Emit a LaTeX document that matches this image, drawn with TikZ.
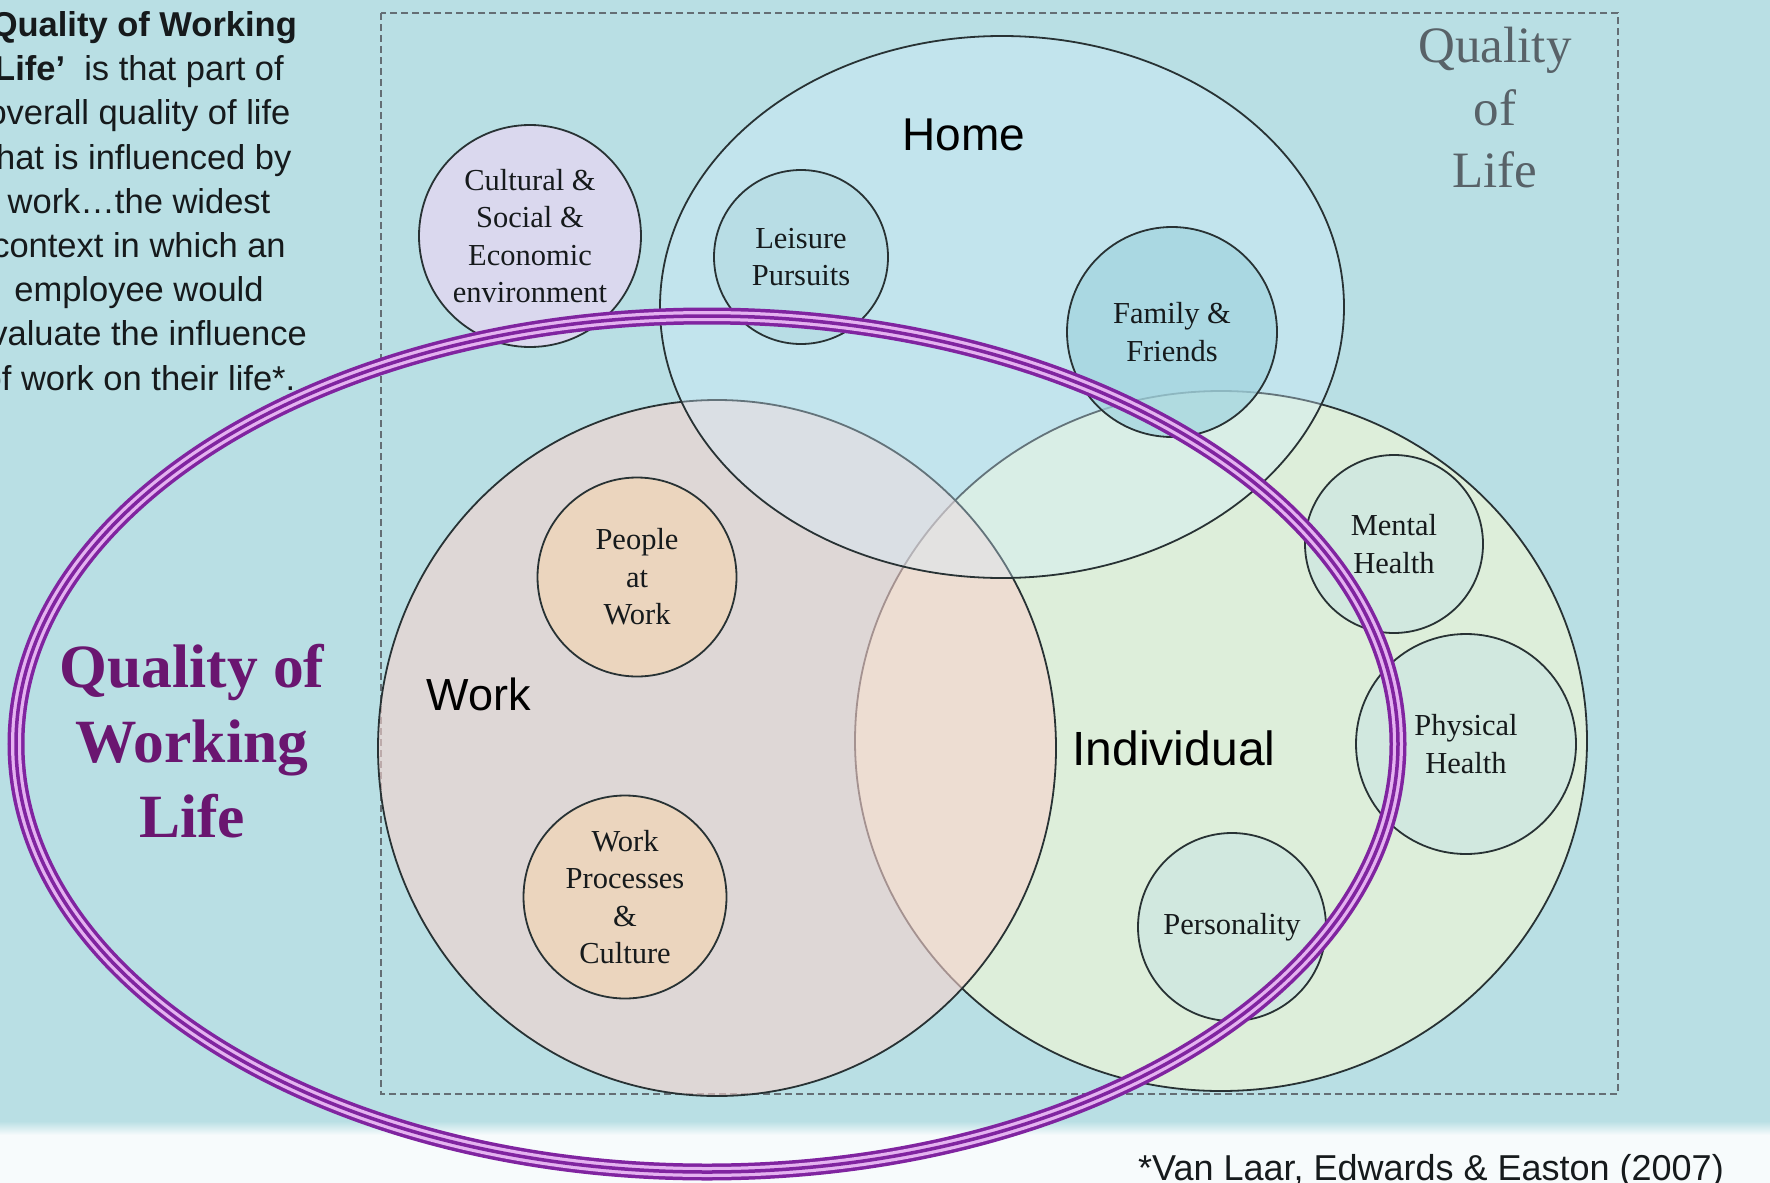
\documentclass[tikz,border=0pt]{standalone}
\usepackage{fontspec}
\setmainfont{Liberation Serif}
\newfontfamily\arialf{Liberation Sans}
\usetikzlibrary{shapes.geometric}
\definecolor{bgteal}{RGB}{185,223,228}
\definecolor{bgwhite}{RGB}{247,251,252}
\definecolor{homec}{RGB}{211,238,255}
\definecolor{workc}{RGB}{248,210,206}
\definecolor{indc}{RGB}{221,238,218}
\definecolor{edgec}{RGB}{40,50,52}
\definecolor{cultc}{RGB}{218,216,238}
\definecolor{leisc}{RGB}{184,221,229}
\definecolor{famc}{RGB}{160,212,222}
\definecolor{healc}{RGB}{208,232,224}
\definecolor{tanc}{RGB}{235,213,190}
\definecolor{bandp}{RGB}{128,36,160}
\definecolor{bandl}{RGB}{228,178,240}
\definecolor{qwlcol}{RGB}{106,22,112}
\definecolor{qolcol}{RGB}{88,98,104}
\definecolor{dashc}{RGB}{100,110,116}
\definecolor{inkc}{RGB}{22,26,28}
\tikzset{
  venn/.style={ellipse, draw=edgec, line width=1.8pt, inner sep=0pt},
  smallc/.style={circle, draw=edgec, line width=1.8pt, inner sep=0pt},
  ctext/.style={font=\fontsize{30.5}{37.5}\selectfont, align=center, text=inkc, inner sep=0pt},
  biglabel/.style={font=\arialf\fontsize{46}{52}\selectfont, text=black, inner sep=0pt, anchor=base},
}
\begin{document}
\begin{tikzpicture}[x=1pt,y=-1pt]
\useasboundingbox (0,0) rectangle (1770,1183);
\clip (0,0) rectangle (1770,1183);
% background
\fill[bgteal] (0,0) rectangle (1770,1128);
\fill[bgwhite] (0,1128) rectangle (1770,1183);
\shade[top color=bgteal, bottom color=bgwhite] (0,1121) rectangle (1770,1135);
% dashed frame
\draw[dashc, line width=1.5pt, dash pattern=on 7pt off 4pt] (381,13) rectangle (1618,1094);
% Venn sets
\node[venn, fill=indc, minimum width=732pt, minimum height=700pt] (indiv) at (1221,741) {};
\node[venn, fill=workc, fill opacity=0.6, minimum width=678pt, minimum height=696pt] (work) at (717,748) {};
\node[venn, fill=homec, fill opacity=0.35, minimum width=684pt, minimum height=542pt] (home) at (1002,307) {};
% small circles
\node[smallc, fill=cultc, minimum size=222pt] (cult) at (530,236) {};
\node[smallc, fill=leisc, minimum size=174pt] (leis) at (801,257) {};
\node[smallc, fill=famc, fill opacity=0.7, minimum size=210pt] (fam) at (1172,332) {};
\node[smallc, fill=tanc, minimum size=199pt] (people) at (637,577) {};
\node[smallc, fill=tanc, minimum size=203pt] (proc) at (625,897) {};
\node[smallc, fill=healc, fill opacity=0.85, minimum size=178pt] (mental) at (1394,544) {};
\node[smallc, fill=healc, fill opacity=0.85, minimum size=220pt] (phys) at (1466,744) {};
\node[smallc, fill=healc, fill opacity=0.85, minimum size=188pt] (pers) at (1232,927) {};
% Quality of Working Life band
\coordinate (qwl) at (707,744);
\draw[bandp, line width=17pt] (qwl) ellipse [x radius=691pt, y radius=428pt];
\draw[bandl, line width=10pt] (qwl) ellipse [x radius=691pt, y radius=428pt];
\draw[bandp, line width=3.5pt] (qwl) ellipse [x radius=691pt, y radius=428pt];
% circle texts
\node[ctext] (cult-t) at (cult) {Cultural \&\\Social \&\\Economic\\environment};
\node[ctext] (leis-t) at (leis) {Leisure\\Pursuits};
\node[ctext] (fam-t) at (fam) {Family \&\\Friends};
\node[ctext] (people-t) at (people) {People\\at\\Work};
\node[ctext] (proc-t) at (proc) {Work\\Processes\\\&\\Culture};
\node[ctext] (mental-t) at (mental) {Mental\\Health};
\node[ctext] (phys-t) at (phys) {Physical\\Health};
\node[ctext] (pers-t) at (pers) {Personality};
% set labels
\node[biglabel] (home-t) at (964,150) {Home};
\node[biglabel, font=\arialf\fontsize{45}{52}\selectfont] (work-t) at (479,710) {Work};
\node[biglabel, font=\arialf\fontsize{48}{52}\selectfont] (indiv-t) at (1174,765) {Individual};
% titles
\node[font=\bfseries\fontsize{61.5}{75}\selectfont, text=qwlcol, align=center, inner sep=0pt] (qwl-t) at (192,741) {Quality of\\Working\\Life};
\node[font=\fontsize{51}{62.5}\selectfont, text=qolcol, align=center, inner sep=0pt] (qol-t) at (1495,108) {Quality\\of\\Life};
% definition text
\node[font=\arialf\fontsize{34.5}{44.2}\selectfont, align=center, inner sep=0pt, text=inkc] (def) at (139,201)
  {\textbf{‘Quality of Working}\\\textbf{Life’}\ \ is that part of\\overall quality of life\\that is influenced by\\work…the widest\\context in which an\\employee would\\evaluate the influence\\of work on their life*.};
% citation
\node[font=\arialf\fontsize{36}{40}\selectfont, anchor=base, inner sep=0pt, text=inkc] (cite) at (1431,1180) {*Van Laar, Edwards \& Easton (2007)};
\end{tikzpicture}
\end{document}
